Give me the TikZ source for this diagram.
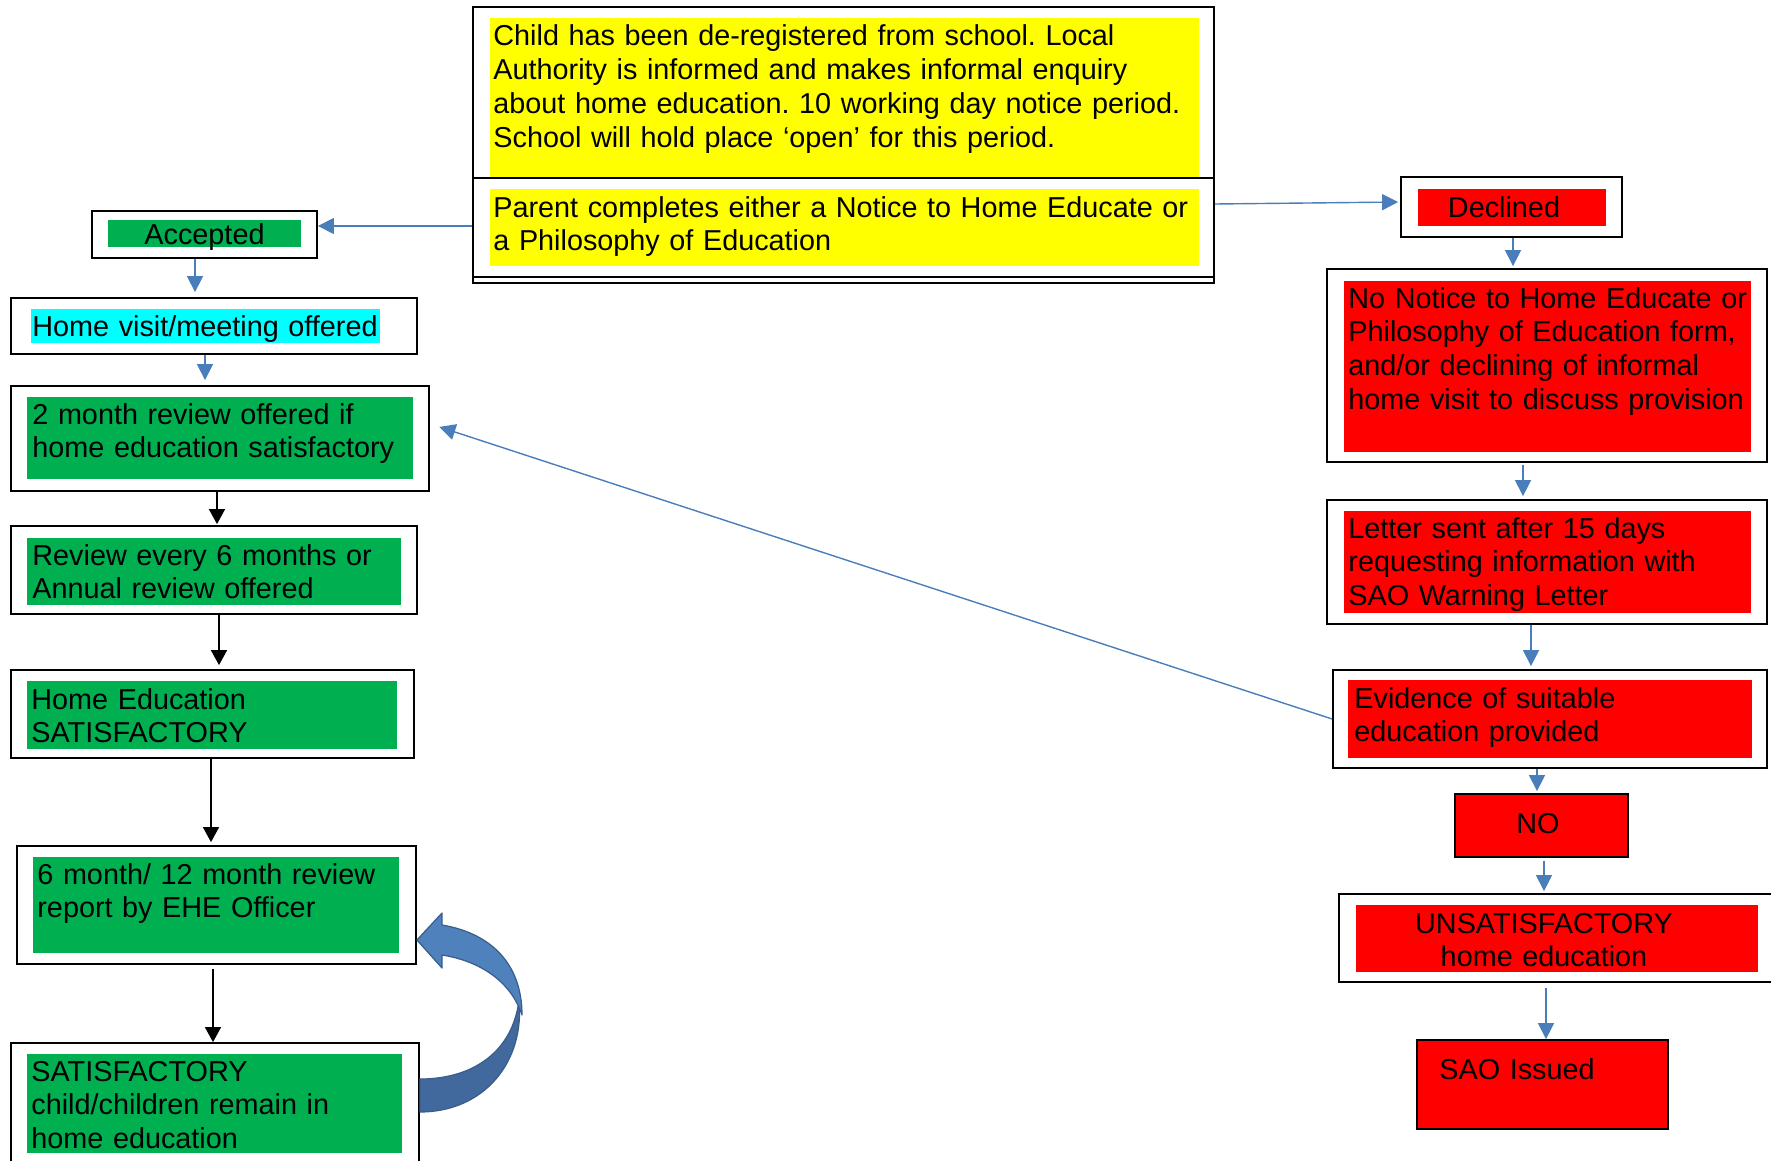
\documentclass[tikz,border=0pt]{standalone}
\usepackage{fontspec}
\setmainfont{Liberation Sans}
\usetikzlibrary{arrows.meta,fit}
\frenchspacing
\hyphenpenalty=10000
\exhyphenpenalty=10000
\definecolor{ybox}{HTML}{FFFF00}
\definecolor{gbox}{HTML}{00B050}
\definecolor{rbox}{HTML}{FF0000}
\definecolor{cbox}{HTML}{00FFFF}
\definecolor{arrowblue}{HTML}{4A7EBB}
\definecolor{blockup}{HTML}{4F81BD}
\definecolor{blocklow}{HTML}{41699E}
\definecolor{blockedge}{HTML}{385D8A}
\tikzset{
  frame/.style={draw=black, line width=0.9pt, inner sep=0pt},
  panel/.style={inner sep=0pt, draw=none},
  txt/.style={font=\fontsize{14.4pt}{16.85pt}\selectfont, inner sep=0pt, anchor=base west, align=left},
  ctxt/.style={font=\fontsize{14.4pt}{16.85pt}\selectfont, inner sep=0pt, anchor=base, align=center},
  barrow/.style={draw=arrowblue, line width=0.7pt, -{Triangle[length=8pt,width=8pt]}},
  karrow/.style={draw=black, line width=0.7pt, -{Triangle[length=7.5pt,width=8pt]}},
}
\begin{document}
\begin{tikzpicture}[x=0.5pt,y=-0.5pt]
\useasboundingbox (0,0) rectangle (1771,1161);

% ---------- top central boxes ----------
\node[frame, fit={(473,7) (1214,178)}] (topA) {};
\node[frame, fit={(473,178) (1214,283)}] (topB) {};
\draw[line width=0.9pt] (topB.west |- 0,277) -- (topB.east |- 0,277);
\node[panel, fill=ybox, fit={(490,18) (1199,177)}] (topAF) {};
\node[panel, fill=ybox, fit={(490,189) (1199,266)}] (topBF) {};
\node[txt, text width=355pt] (topAT) at (493,46) {Child has been de-registered from school. Local\\Authority is informed and makes informal enquiry\\about home education. 10 working day notice period.\\School will hold place ‘open’ for this period.};
\node[txt, text width=355pt] (topBT) at (493,217) {Parent completes either a Notice to Home Educate or\\a Philosophy of Education};

% ---------- left column ----------
\node[frame, fit={(92,211) (317,258)}] (acc) {};
\node[panel, fill=gbox, fit={(108,220) (301,247)}] (accF) {};
\node[ctxt] (accT) at (204.5,244) {Accepted};

\node[frame, fit={(11,298) (417,354)}] (hv) {};
\node[panel, fill=cbox, fit={(31,309) (380,343)}] (hvF) {};
\node[txt, text width=185pt] (hvT) at (32,336) {Home visit/meeting offered};

\node[frame, fit={(11,386) (429,491)}] (m2) {};
\node[panel, fill=gbox, fit={(27,397) (413,479)}] (m2F) {};
\node[txt, text width=190pt] (m2T) at (32,424) {2 month review offered if\\home education satisfactory};

\node[frame, fit={(11,526) (417,614)}] (rev) {};
\node[panel, fill=gbox, fit={(27,538) (401,605)}] (revF) {};
\node[txt, text width=185pt] (revT) at (32,565) {Review every 6 months or\\Annual review offered};

\node[frame, fit={(11,670) (414,758)}] (he) {};
\node[panel, fill=gbox, fit={(27,681) (397,749)}] (heF) {};
\node[txt, text width=180pt] (heT) at (31,709) {Home Education\\SATISFACTORY};

\node[frame, fit={(17,846) (416,964)}] (m6) {};
\node[panel, fill=gbox, fit={(33,857) (399,953)}] (m6F) {};
\node[txt, text width=180pt] (m6T) at (37,884) {6 month/ 12 month review\\report by EHE Officer};

\node[frame, fit={(11,1043) (419,1175)}] (sat) {};
\node[panel, fill=gbox, fit={(27,1054) (402,1153)}] (satF) {};
\node[txt, text width=185pt] (satT) at (31,1081) {SATISFACTORY\\child/children remain in\\home education};

% ---------- right column ----------
\node[frame, fit={(1401,177) (1622,237)}] (dec) {};
\node[panel, fill=rbox, fit={(1418,189) (1606,226)}] (decF) {};
\node[ctxt] (decT) at (1504,217) {Declined};

\node[frame, fit={(1327,269) (1767,462)}] (nn) {};
\node[panel, fill=rbox, fit={(1344,281) (1751,452)}] (nnF) {};
\node[txt, text width=205pt] (nnT) at (1348,308) {No Notice to Home Educate or\\Philosophy of Education form,\\and/or declining of informal\\home visit to discuss provision};

\node[frame, fit={(1327,500) (1767,624)}] (let) {};
\node[panel, fill=rbox, fit={(1344,511) (1751,613)}] (letF) {};
\node[txt, text width=200pt] (letT) at (1348,538) {Letter sent after 15 days\\requesting information with\\SAO Warning Letter};

\node[frame, fit={(1333,670) (1767,768)}] (ev) {};
\node[panel, fill=rbox, fit={(1348,680) (1752,758)}] (evF) {};
\node[txt, text width=195pt] (evT) at (1354,708) {Evidence of suitable\\education provided};

\node[frame, fill=rbox, fit={(1455,794) (1628,857)}] (no) {};
\node[ctxt] (noT) at (1538,833) {NO};

\node[frame, fit={(1339,894) (1790,982)}] (un) {};
\node[panel, fill=rbox, fit={(1356,905) (1758,972)}] (unF) {};
\node[ctxt, text width=160pt] (unT) at (1544,933) {UNSATISFACTORY\\home education};

\node[frame, fill=rbox, fit={(1417,1040) (1668,1129)}] (sao) {};
\node[txt, text width=110pt] (saoT) at (1439,1079) {SAO Issued};

% ---------- connectors ----------
\draw[barrow] (topB.west |- 0,226) -- (acc.east |- 0,226);
\draw[barrow, shorten >=2.5pt] (acc.south -| 195,0) -- (hv.north -| 195,0);
\draw[barrow, shorten >=2.5pt] (hv.south -| 205,0) -- (m2.north -| 205,0);
\draw[karrow, shorten >=0.5pt] (m2.south -| 217,0) -- (rev.north -| 217,0);
\draw[karrow, shorten >=2pt] (rev.south -| 219,0) -- (he.north -| 219,0);
\draw[karrow, shorten >=1.5pt] (he.south -| 211,0) -- (m6.north -| 211,0);
\draw[karrow, shorten <=2pt] (m6.south -| 213,0) -- (sat.north -| 213,0);

\draw[barrow, shorten >=1pt] (topB.east |- 0,204) -- (dec.west |- 0,202);
\draw[barrow, shorten >=1pt] (dec.south -| 1513,0) -- (nn.north -| 1513,0);
\draw[barrow, shorten >=1.5pt, shorten <=1pt] (nn.south -| 1523,0) -- (let.north -| 1523,0);
\draw[barrow, shorten >=1.5pt] (let.south -| 1531,0) -- (ev.north -| 1531,0);
\draw[barrow, shorten >=1pt] (ev.south -| 1537,0) -- (no.north -| 1537,0);
\draw[barrow, shorten >=1pt, shorten <=1.5pt] (no.south -| 1544,0) -- (un.north -| 1544,0);
\draw[barrow, shorten <=2.5pt] (un.south -| 1546,0) -- (sao.north -| 1546,0);
\draw[barrow, shorten >=5pt] (ev.west) -- (m2.4.5);

% ---------- curved block arrow (SATISFACTORY back to review) ----------
\fill[blocklow, draw=blockedge, line width=0.6pt]
  (sat.east |- 0,1079) .. controls (475,1079) and (513,1050) .. (519,1000)
  .. controls (525,1062) and (484,1112) .. (sat.east |- 0,1112) -- cycle;
\fill[blockup, draw=blockedge, line width=0.6pt, line join=round]
  (522,1015) .. controls (522,963) and (490,933) .. (442,925)
  -- (442,913) -- (m6.east |- 0,940) -- (442,968) -- (442,955)
  .. controls (485,962) and (512,985) .. (522,1015) -- cycle;
\end{tikzpicture}
\end{document}
